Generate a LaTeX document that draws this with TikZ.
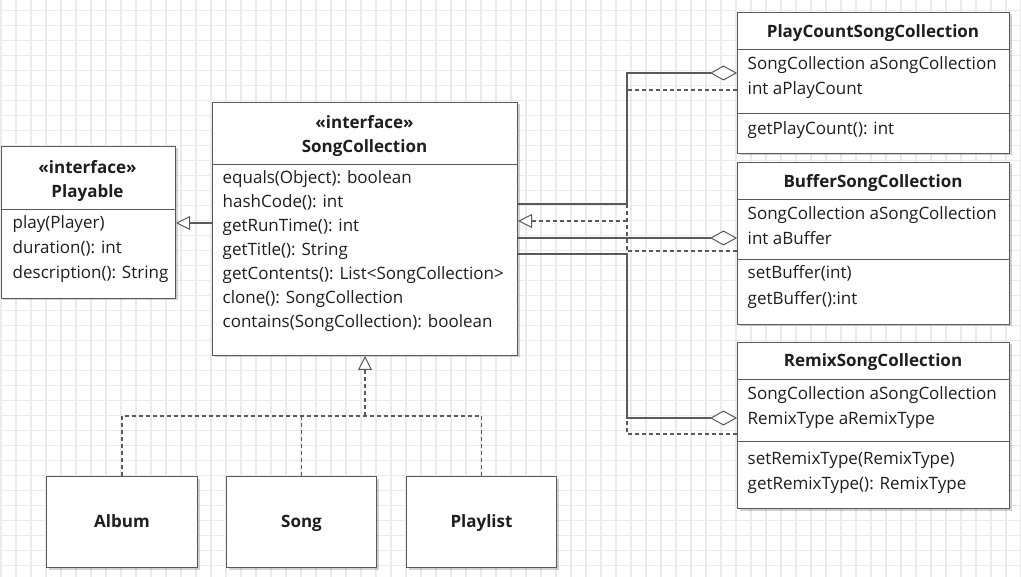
\documentclass[tikz,border=0pt]{standalone}
\usepackage{fontspec}
\setmainfont{Open Sans}
\usetikzlibrary{arrows.meta,shadows,calc}
\definecolor{gridc}{HTML}{EBEBEB}
\definecolor{linec}{HTML}{5A5A5A}
\definecolor{textc}{HTML}{1E1E1E}
\tikzset{
  box/.style={draw=linec, line width=1pt, fill=white, rectangle, inner sep=0pt, anchor=north west,
    drop shadow={shadow xshift=2pt, shadow yshift=-2pt, opacity=0.18, fill=black}},
  txt/.style={anchor=mid west, inner sep=0pt, yshift=-3pt, text=textc, font=\fontsize{17}{20}\selectfont},
  ttl/.style={anchor=mid, inner sep=0pt, yshift=-3pt, text=textc, font=\fontsize{17}{20}\selectfont\bfseries},
  divider/.style={draw=linec, line width=1pt},
  assoc/.style={draw=linec, line width=1.1pt},
  realize/.style={draw=linec, line width=1.1pt, dash pattern=on 4pt off 3pt},
  diamondtip/.style={-{Diamond[open, length=27pt, width=15pt, line width=1pt, fill=white]}},
  tritip/.style={-{Triangle[open, length=14pt, width=14pt, line width=1pt, fill=white]}},
}
\begin{document}
\begin{tikzpicture}[x=1pt, y=-1pt]
\useasboundingbox (0,0) rectangle (1021,577);
\fill[white] (0,0) rectangle (1021,577);
\foreach \i in {0,...,68} { \draw[gridc, line width=1.3pt] (1+15*\i,0) -- (1+15*\i,577); }
\foreach \j in {0,...,38} { \draw[gridc, line width=1.3pt] (0,10.7+15*\j) -- (1021,10.7+15*\j); }

% ---------- Playable ----------
\node[box, minimum width=174.5pt, minimum height=152pt] (pl) at (0.5,146) {};
\node[ttl] (pl-s) at (87.5,168) {«interface»};
\node[ttl] (pl-t) at (87.5,192) {Playable};
\draw[divider] (pl.west |- 0,210) -- (pl.east |- 0,210);
\node[txt] (pl-m1) at (12.5,223) {play(Player)};
\node[txt] (pl-m2) at (12.5,248) {duration(): int};
\node[txt] (pl-m3) at (12.5,273) {description(): String};

% ---------- SongCollection ----------
\node[box, minimum width=305pt, minimum height=253pt] (sc) at (212,102) {};
\node[ttl] (sc-s) at (364.5,123) {«interface»};
\node[ttl] (sc-t) at (364.5,147) {SongCollection};
\draw[divider] (sc.west |- 0,165) -- (sc.east |- 0,165);
\node[txt] (sc-m1) at (222.5,178) {equals(Object): boolean};
\node[txt] (sc-m2) at (222.5,202) {hashCode(): int};
\node[txt] (sc-m3) at (222.5,226) {getRunTime(): int};
\node[txt] (sc-m4) at (222.5,250) {getTitle(): String};
\node[txt] (sc-m5) at (222.5,274) {getContents(): List<SongCollection>};
\node[txt] (sc-m6) at (222.5,298) {clone(): SongCollection};
\node[txt] (sc-m7) at (222.5,322) {contains(SongCollection): boolean};

% ---------- PlayCountSongCollection ----------
\node[box, minimum width=272pt, minimum height=141pt] (pc) at (737,12) {};
\node[ttl] (pc-t) at (873,32) {PlayCountSongCollection};
\draw[divider] (pc.west |- 0,50) -- (pc.east |- 0,50);
\node[txt] (pc-a1) at (747.5,64) {SongCollection aSongCollection};
\node[txt] (pc-a2) at (747.5,89) {int aPlayCount};
\draw[divider] (pc.west |- 0,114) -- (pc.east |- 0,114);
\node[txt] (pc-m1) at (747.5,129) {getPlayCount(): int};

% ---------- BufferSongCollection ----------
\node[box, minimum width=272pt, minimum height=162pt] (bf) at (737,162) {};
\node[ttl] (bf-t) at (873,182) {BufferSongCollection};
\draw[divider] (bf.west |- 0,200) -- (bf.east |- 0,200);
\node[txt] (bf-a1) at (747.5,214) {SongCollection aSongCollection};
\node[txt] (bf-a2) at (747.5,239) {int aBuffer};
\draw[divider] (bf.west |- 0,260) -- (bf.east |- 0,260);
\node[txt] (bf-m1) at (747.5,273) {setBuffer(int)};
\node[txt] (bf-m2) at (747.5,299) {getBuffer():int};

% ---------- RemixSongCollection ----------
\node[box, minimum width=272pt, minimum height=166pt] (rx) at (737,342) {};
\node[ttl] (rx-t) at (873,361) {RemixSongCollection};
\draw[divider] (rx.west |- 0,380) -- (rx.east |- 0,380);
\node[txt] (rx-a1) at (747.5,394) {SongCollection aSongCollection};
\node[txt] (rx-a2) at (747.5,419) {RemixType aRemixType};
\draw[divider] (rx.west |- 0,442) -- (rx.east |- 0,442);
\node[txt] (rx-m1) at (747.5,459) {setRemixType(RemixType)};
\node[txt] (rx-m2) at (747.5,484) {getRemixType(): RemixType};

% ---------- Album / Song / Playlist ----------
\node[box, minimum width=151pt, minimum height=91pt] (al) at (46,476) {};
\node[ttl] (al-t) at (al.center) {Album};
\node[box, minimum width=150pt, minimum height=91pt] (so) at (226,476) {};
\node[ttl] (so-t) at (so.center) {Song};
\node[box, minimum width=150pt, minimum height=91pt] (pls) at (406,476) {};
\node[ttl] (pls-t) at (pls.center) {Playlist};

% ---------- connectors ----------
% SongCollection realizes Playable
\draw[assoc, tritip] (sc.west |- 0,223) -- (pl.east |- 0,223);

% Album/Song/Playlist realize SongCollection
\coordinate (jb) at (sc.south |- 0,416);
\draw[realize] (al.north) |- (jb);
\draw[realize] (pls.north) |- (jb);
\draw[realize] (so.north) -- (so.north |- jb);
\draw[realize, tritip] (jb) -- (sc.south);

% decorators: aggregation of SongCollection
\coordinate (bus) at (627,0);
\draw[assoc, diamondtip] (sc.east |- 0,204) -| (bus |- 0,73) -- (pc.west |- 0,73);
\draw[assoc, diamondtip] (sc.east |- 0,238) -- (bf.west |- 0,238);
\draw[assoc, diamondtip] (sc.east |- 0,254) -| (bus |- 0,418) -- (rx.west |- 0,418);

% decorators realize SongCollection
\draw[realize] (pc.west |- 0,90) -| (bus |- 0,221);
\draw[realize] (rx.west |- 0,434) -| (bus |- 0,221);
\draw[realize] (bf.west |- 0,251) -- (bus |- 0,251);
\draw[realize, tritip] (bus |- 0,221) -- (sc.east |- 0,221);
\end{tikzpicture}
\end{document}
